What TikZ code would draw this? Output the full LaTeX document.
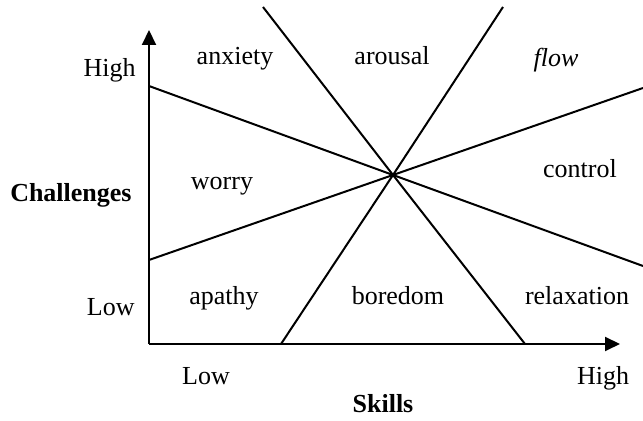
\documentclass[tikz,border=0pt]{standalone}
\usepackage{fontspec}
\setmainfont{Liberation Serif}
\usetikzlibrary{arrows.meta, positioning, calc}

\begin{document}
\begin{tikzpicture}[
        x=0.5pt, y=-0.5pt,
        axis/.style={-{Triangle[length=7.5pt, width=7pt]}, line width=1pt, black},
        zone/.style={line width=1pt, black},
        lbl/.style={font=\fontsize{13}{15}\selectfont, inner sep=0pt, anchor=base},
        tick/.style={lbl, anchor=base east},
        title/.style={lbl, font=\fontsize{13}{15}\selectfont\bfseries}
    ]
        \useasboundingbox (0,0) rectangle (643,421);

        % axes
        \coordinate (o) at (149,344);
        \coordinate (ytip) at (149,30);
        \coordinate (xtip) at (620,344);
        \draw[axis] (o) -- (ytip);
        \draw[axis] (o) -- (xtip);

        % the four lines through the centre
        \coordinate (c) at (393,175);
        \coordinate (l1a) at (149,86);
        \coordinate (l1b) at (643,266);
        \coordinate (l2a) at (149,260);
        \coordinate (l2b) at (643,88);
        \coordinate (l3a) at (263,7);
        \coordinate (l3b) at (525,344);
        \coordinate (l4a) at (503,7);
        \coordinate (l4b) at (281,344);
        \draw[zone] (l1a) -- (c) -- (l1b);
        \draw[zone] (l2a) -- (c) -- (l2b);
        \draw[zone] (l3a) -- (c) -- (l3b);
        \draw[zone] (l4a) -- (c) -- (l4b);

        % axis labels
        \node[tick] (yhigh) at (136,77) {High};
        \node[tick] (ylow) at (135,316) {Low};
        \node[title, anchor=base east] (chal) at (132,202) {Challenges};
        \node[lbl] (xlow) at (206,385) {Low};
        \node[lbl] (xhigh) at (603,385) {High};
        \node[title] (skills) at (383,413) {Skills};

        % regions
        \node[lbl] (anxiety) at (235,65) {anxiety};
        \node[lbl] (arousal) at (392,65) {arousal};
        \node[lbl, font=\fontsize{13}{15}\selectfont\itshape] (flow) at (556,67) {flow};
        \node[lbl] (worry) at (222,190) {worry};
        \node[lbl] (control) at (580,178) {control};
        \node[lbl] (apathy) at (224,305) {apathy};
        \node[lbl] (boredom) at (398,305) {boredom};
        \node[lbl] (relax) at (577,305) {relaxation};
    \end{tikzpicture}
\end{document}
